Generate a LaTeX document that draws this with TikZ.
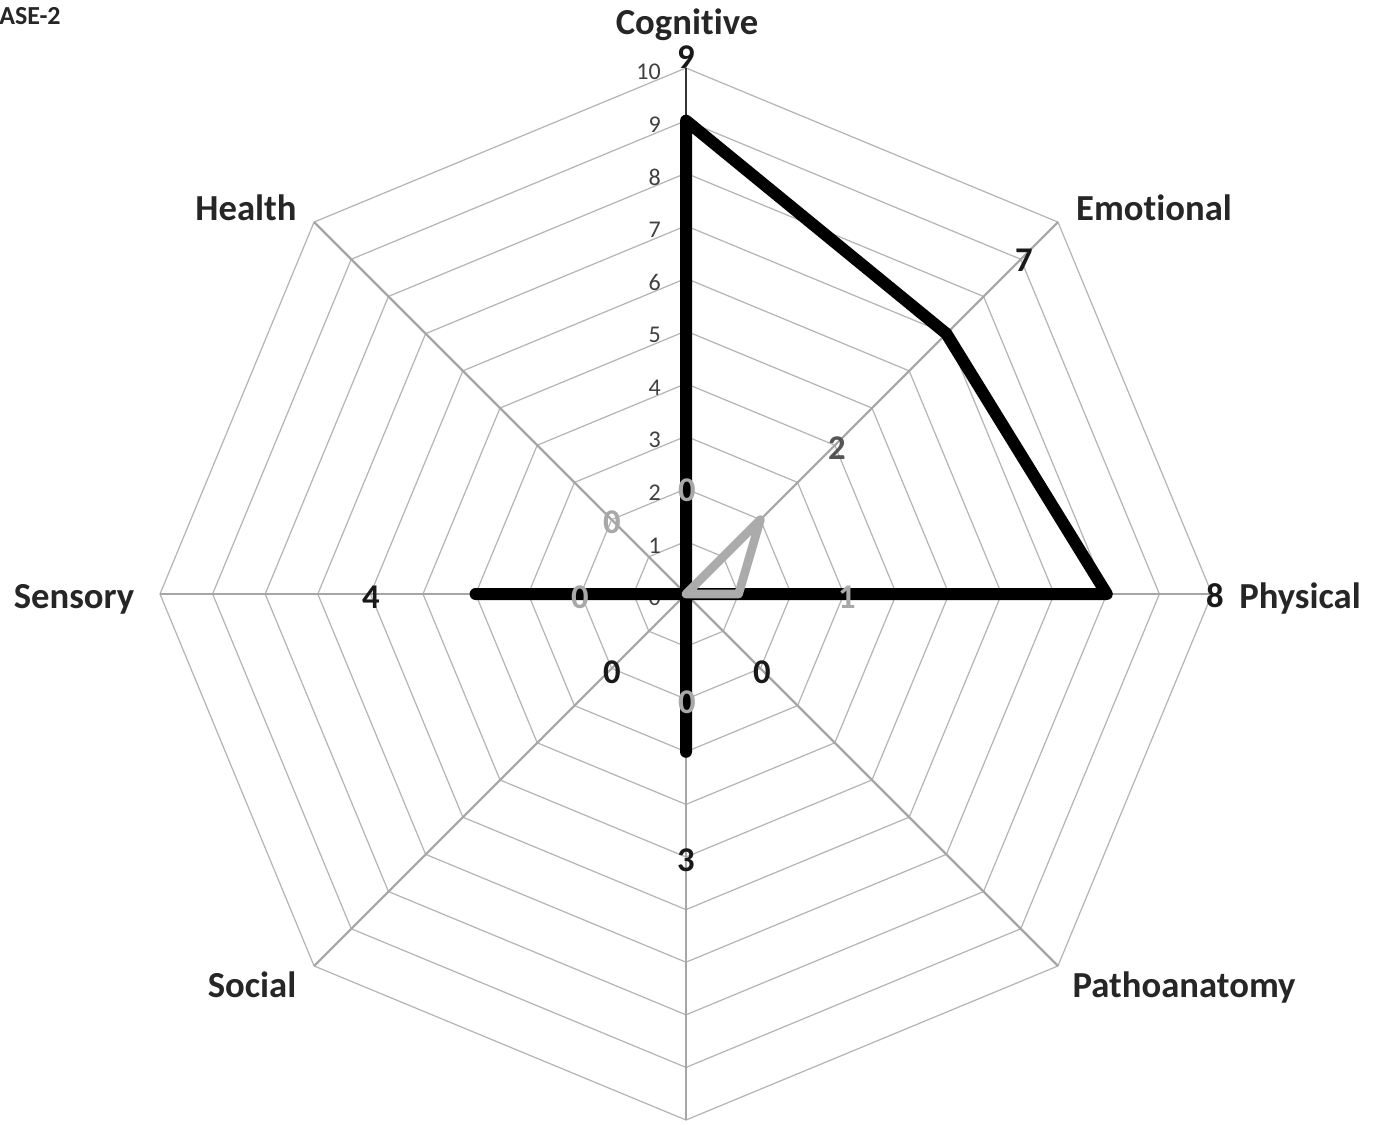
\documentclass[tikz,border=0pt]{standalone}
\usepackage{fontspec}
\setmainfont{Carlito}[Ligatures={NoCommon,NoContextual}]
\definecolor{ringc}{HTML}{B4B4B4}
\definecolor{spokec}{HTML}{A6A6A6}
\definecolor{seriesgray}{HTML}{ABABAB}
\definecolor{glabel}{HTML}{A8A8A8}
\definecolor{glabeldark}{HTML}{555555}
\definecolor{tickc}{HTML}{404040}
\tikzset{
  ring/.style={draw=ringc, line width=0.9pt},
  spoke/.style={draw=spokec, line width=1.6pt},
  valaxis/.style={draw=black!80, line width=1.2pt},
  blackser/.style={draw=black, line width=9pt, line join=round, line cap=round},
  grayser/.style={draw=seriesgray, line width=6.5pt, line join=round, line cap=round},
  axlabel/.style={font=\fontsize{27.5}{30}\selectfont\bfseries, text=black!85, inner sep=0pt, anchor=base},
  datalabel/.style={font=\fontsize{26}{28}\selectfont\bfseries, text=black!90, inner sep=0pt},
  graylabel/.style={font=\fontsize{26}{28}\selectfont\bfseries, text=glabel, inner sep=0pt},
  ticklabel/.style={font=\fontsize{18}{20}\selectfont, text=tickc, inner sep=0pt, anchor=east},
}
\begin{document}
\begin{tikzpicture}[x=0.75pt,y=0.75pt]
\useasboundingbox (0,0) rectangle (1383,-1124);
\fill[white] (0,0) rectangle (1383,-1124);
% title fragment
\node[font=\fontsize{19.5}{22}\selectfont\bfseries, text=black!85, inner sep=0pt, anchor=west] (title) at (-1,-16) {ASE-2};
\begin{scope}[shift={(686,-594)}]
\def\u{52.6}
\foreach \k in {1,...,10}{
  \draw[ring] (90:\k*\u) -- (45:\k*\u) -- (0:\k*\u) -- (-45:\k*\u) -- (-90:\k*\u) -- (-135:\k*\u) -- (180:\k*\u) -- (135:\k*\u) -- cycle;
}
\foreach \a in {45,0,-45,-90,-135,180,135}{
  \draw[spoke] (0,0) -- (\a:10*\u);
}
\draw[valaxis] (0,0) -- (90:10*\u);
\coordinate (O) at (0,0);
\coordinate (b1) at (90:9*\u);
\coordinate (b2) at (45:7*\u);
\coordinate (b3) at (0:8*\u);
\coordinate (b5) at (-90:3*\u);
\coordinate (b7) at (180:4*\u);
\coordinate (g2) at (45:2*\u);
\coordinate (g3) at (0:\u);
\end{scope}
% tick labels
\foreach \k in {0,...,10}{
  \node[ticklabel] (t\k) at (661,{-(598-52.6*\k)}) {\k};
}
% series
\draw[blackser] (b1) -- (b2) -- (b3) -- (O) -- (b5) -- (O) -- (b7) -- (O) -- cycle;
\draw[grayser] (O) -- (g2) -- (g3) -- (O) -- cycle;
% axis labels
\node[axlabel] (lcog) at (687,-35) {Cognitive};
\node[axlabel] (lemo) at (1154,-220) {Emotional};
\node[axlabel] (lphy) at (1300,-608) {Physical};
\node[axlabel] (lpat) at (1184,-997) {Pathoanatomy};
\node[axlabel] (lsoc) at (252,-997) {Social};
\node[axlabel] (lsen) at (74,-608) {Sensory};
\node[axlabel] (lhea) at (246,-220) {Health};
% black data labels
\node[datalabel] (d1) at (686,-57) {9};
\node[datalabel] (d2) at (1024,-260) {7};
\node[datalabel] (d3) at (1215,-596) {8};
\node[datalabel] (d4) at (762,-672) {0};
\node[datalabel] (d5) at (686,-860) {3};
\node[datalabel] (d6) at (612,-672) {0};
\node[datalabel] (d7) at (371,-597) {4};
% gray data labels
\node[graylabel] (e1) at (687,-490) {0};
\node[graylabel, text=glabeldark] (e2) at (837,-448) {2};
\node[graylabel] (e3) at (847,-597) {1};
\node[graylabel] (e5) at (687,-702) {0};
\node[graylabel] (e7) at (580,-597) {0};
\node[graylabel] (e8) at (612,-522) {0};
\end{tikzpicture}
\end{document}
